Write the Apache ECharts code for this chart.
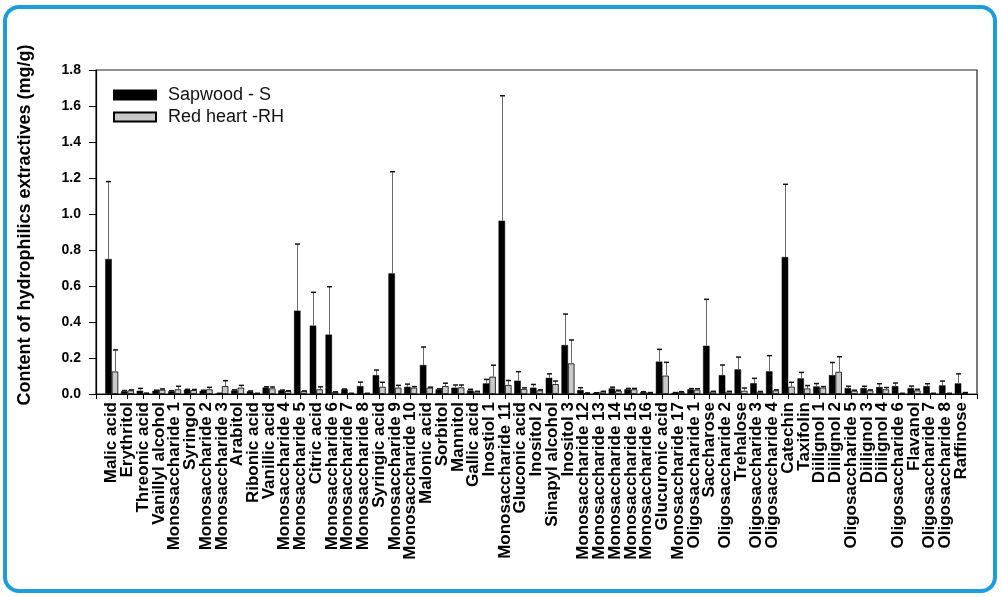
<!DOCTYPE html>
<html><head><meta charset="utf-8">
<script src="https://cdn.jsdelivr.net/npm/echarts@6/dist/echarts.min.js"></script>
<style>html,body{margin:0;padding:0;background:#fff}#c{width:1001px;height:597px}</style>
</head><body><div id="c"></div>
<script>
const categories = ["Malic acid","Erythritol","Threonic acid","Vanillyl alcohol","Monosaccharide 1","Syringol","Monosaccharide 2","Monosaccharide 3","Arabitol","Ribonic acid","Vanillic acid","Monosaccharide 4","Monosaccharide 5","Citric acid","Monosaccharide 6","Monosaccharide 7","Monosaccharide 8","Syringic acid","Monosaccharide 9","Monosaccharide 10","Malonic acid","Sorbitol","Mannitol","Gallic acid","Inostiol 1","Monosaccharide 11","Gluconic acid","Inositol 2","Sinapyl alcohol","Inositol 3","Monosaccharide 12","Monosaccharide 13","Monosaccharide 14","Monosaccharide 15","Monosaccharide 16","Glucuronic acid","Monosaccharide 17","Oligosaccharide 1","Saccharose","Oligosaccharide 2","Trehalose","Oligosaccharide 3","Oligosaccharide 4","Catechin","Taxifolin","Diilignol 1","Diilignol 2","Oligosaccharide 5","Diilignol 3","Diilignol 4","Oligosaccharide 6","Flavanol","Oligosaccharide 7","Oligosaccharide 8","Raffinose"];
const sapwood   = [0.75,0.015,0.018,0.018,0.015,0.024,0.018,0.003,0.02,0.015,0.036,0.02,0.463,0.38,0.33,0.026,0.044,0.105,0.67,0.04,0.161,0.026,0.035,0.02,0.059,0.963,0.074,0.035,0.09,0.272,0.022,0.006,0.031,0.026,0.011,0.18,0.007,0.026,0.268,0.105,0.137,0.06,0.126,0.761,0.087,0.042,0.105,0.033,0.033,0.039,0.044,0.033,0.044,0.048,0.059];
const sapwoodSD = [0.43,0.004,0.013,0.003,0.003,0.002,0.003,0.001,0.003,0.002,0.004,0.002,0.37,0.185,0.266,0.002,0.022,0.028,0.565,0.015,0.1,0.003,0.015,0.006,0.022,0.694,0.05,0.018,0.022,0.172,0.013,0.001,0.007,0.005,0.002,0.068,0.001,0.004,0.258,0.056,0.068,0.027,0.087,0.404,0.033,0.016,0.07,0.01,0.01,0.018,0.017,0.011,0.013,0.024,0.053];
const redHeart   = [0.125,0.02,0.004,0.024,0.026,0.022,0.026,0.044,0.035,0.003,0.031,0.016,0.015,0.026,0.01,0.003,0.003,0.04,0.035,0.035,0.035,0.044,0.037,0.013,0.096,0.05,0.028,0.02,0.055,0.17,0.005,0.013,0.018,0.026,0.007,0.102,0.011,0.024,0.013,0.013,0.018,0.012,0.02,0.041,0.031,0.035,0.123,0.018,0.02,0.026,0.003,0.02,0.003,0.003,0.007];
const redHeartSD = [0.12,0.003,0.001,0.004,0.017,0.003,0.011,0.03,0.013,0.001,0.008,0.002,0.002,0.014,0.002,0.001,0.001,0.025,0.013,0.006,0.003,0.016,0.013,0.002,0.064,0.025,0.006,0.003,0.017,0.13,0.001,0.002,0.003,0.005,0.001,0.074,0.002,0.005,0.002,0.002,0.015,0.002,0.003,0.024,0.016,0.006,0.084,0.003,0.003,0.01,0.001,0.006,0.001,0.001,0.001];
const yMin = 0, yMax = 1.8, yStep = 0.2;

const BAR_W = 6.5;
const xData = [''].concat(categories, ['']);
const pad = a => [null].concat(a, [null]);
const errData = (m, s) => m.map((v, i) => [i + 1, v, s[i]]);
function errRenderer(offset) {
  return function (params, api) {
    const x = api.value(0), m = api.value(1), sd = api.value(2);
    const p0 = api.coord([x, m]);
    const p1 = api.coord([x, m + sd]);
    const px = Math.round(p0[0] + offset) + 0.5;
    return {
      type: 'group',
      children: [
        {type: 'line', shape: {x1: px, y1: p0[1], x2: px, y2: p1[1]}, style: {stroke: '#6a6a6a', lineWidth: 1}},
        {type: 'line', shape: {x1: px - 2.5, y1: p1[1], x2: px + 2.5, y2: p1[1]}, style: {stroke: '#111', lineWidth: 1.5}}
      ]
    };
  };
}

const chart = echarts.init(document.getElementById('c'), null, {renderer: 'canvas'});
chart.setOption({
  backgroundColor: '#fff',
  animation: false,
  graphic: [{
    type: 'rect', shape: {x: 5, y: 7, width: 990, height: 584, r: 14},
    style: {fill: null, stroke: '#1d9ddb', lineWidth: 4}, silent: true, z: 100
  }],
  legend: {
    data: ['Sapwood - S', 'Red heart -RH'],
    orient: 'vertical', left: 108, top: 81,
    itemWidth: 42, itemHeight: 9, itemGap: 4,
    icon: 'rect',
    textStyle: {fontFamily: 'Liberation Sans, Arial', fontSize: 18, color: '#111', padding: [0, 0, 0, 7]}
  },
  grid: {left: 96, right: 24, top: 70, bottom: 203, show: true, borderColor: '#222', borderWidth: 1.2, backgroundColor: 'transparent'},
  xAxis: {
    type: 'category', data: xData, boundaryGap: false,
    axisLine: {lineStyle: {color: '#000', width: 1.2}},
    axisTick: {show: true, length: 5, lineStyle: {color: '#000'}, interval: 0},
    axisLabel: {interval: 0, rotate: 90, margin: 8, color: '#000', fontFamily: 'Liberation Sans, Arial', fontWeight: 'bold', fontSize: 17},
    splitLine: {show: false}
  },
  yAxis: {
    type: 'value', min: yMin, max: yMax, interval: yStep,
    name: 'Content of hydrophilics extractives (mg/g)',
    nameLocation: 'middle', nameRotate: 90, nameGap: 62,
    nameTextStyle: {fontFamily: 'Liberation Sans, Arial', fontWeight: 'bold', fontSize: 18, color: '#000', padding: [0, 0, 0, 14]},
    axisLine: {show: true, lineStyle: {color: '#000', width: 1.2}},
    axisTick: {show: true, length: 7, lineStyle: {color: '#000'}},
    axisLabel: {color: '#000', fontFamily: 'Liberation Sans, Arial', fontWeight: 'bold', fontSize: 14, margin: 15, formatter: v => v.toFixed(1)},
    splitLine: {show: false}
  },
  series: [
    {name: 'Sapwood - S', type: 'bar', data: pad(sapwood), barWidth: BAR_W, barGap: '0%',
     itemStyle: {color: '#000', borderColor: '#000', borderWidth: 0.5}},
    {name: 'Red heart -RH', type: 'bar', data: pad(redHeart), barWidth: BAR_W, barGap: '0%',
     itemStyle: {color: '#c9c9c9', borderColor: '#000', borderWidth: 0.8}},
    {name: 'errS', type: 'custom', data: errData(sapwood, sapwoodSD), encode: {x: 0, y: 1},
     renderItem: errRenderer(-BAR_W / 2), z: 3, silent: true},
    {name: 'errRH', type: 'custom', data: errData(redHeart, redHeartSD), encode: {x: 0, y: 1},
     renderItem: errRenderer(BAR_W / 2), z: 3, silent: true}
  ]
});
</script></body></html>
